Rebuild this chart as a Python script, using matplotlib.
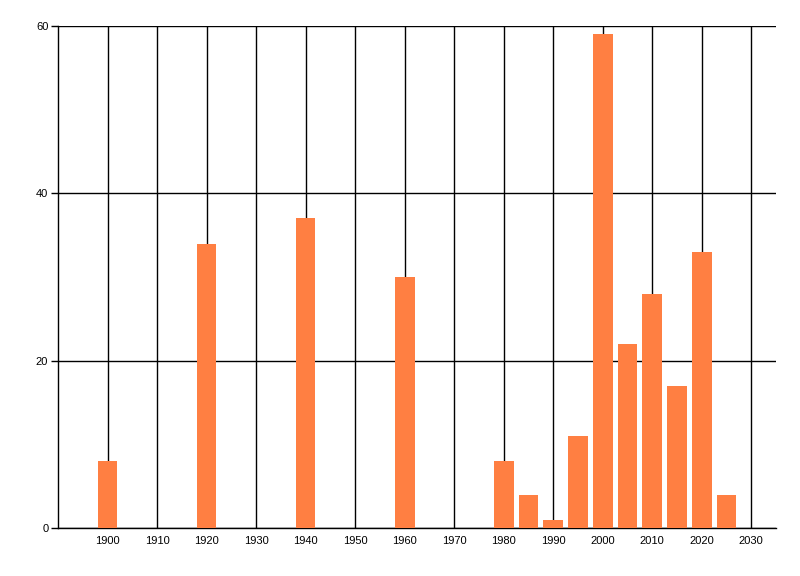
import matplotlib
matplotlib.use("Agg")
import matplotlib.pyplot as plt

years = [1900, 1920, 1940, 1960, 1980, 1985, 1990, 1995, 2000, 2005, 2010, 2015, 2020, 2025]
counts = [8, 34, 37, 30, 8, 4, 1, 11, 59, 22, 28, 17, 33, 4]
xticks = list(range(1900, 2031, 10))
yticks = [0, 20, 40, 60]

plt.rcParams['font.family'] = ['Liberation Sans', 'DejaVu Sans']

fig = plt.figure(figsize=(8, 5.76), dpi=100)
ax = fig.add_axes([0.0725, 0.0833, 0.8975, 0.8716])

ax.bar(years, counts, width=4, color='#FF7F42', zorder=3)

ax.set_xlim(1890, 2035)
ax.set_ylim(0, 60)
ax.set_xticks(xticks)
ax.set_yticks(yticks)
ax.grid(True, color='black', linewidth=1, zorder=0)
ax.set_axisbelow(True)

for s in ['top', 'right']:
    ax.spines[s].set_visible(False)
for s in ['left', 'bottom']:
    ax.spines[s].set_linewidth(1)

ax.tick_params(axis='x', length=0, pad=6, labelsize=8)
ax.tick_params(axis='y', length=5, width=1, pad=2, labelsize=8)

fig.savefig('out.png', dpi=100)
